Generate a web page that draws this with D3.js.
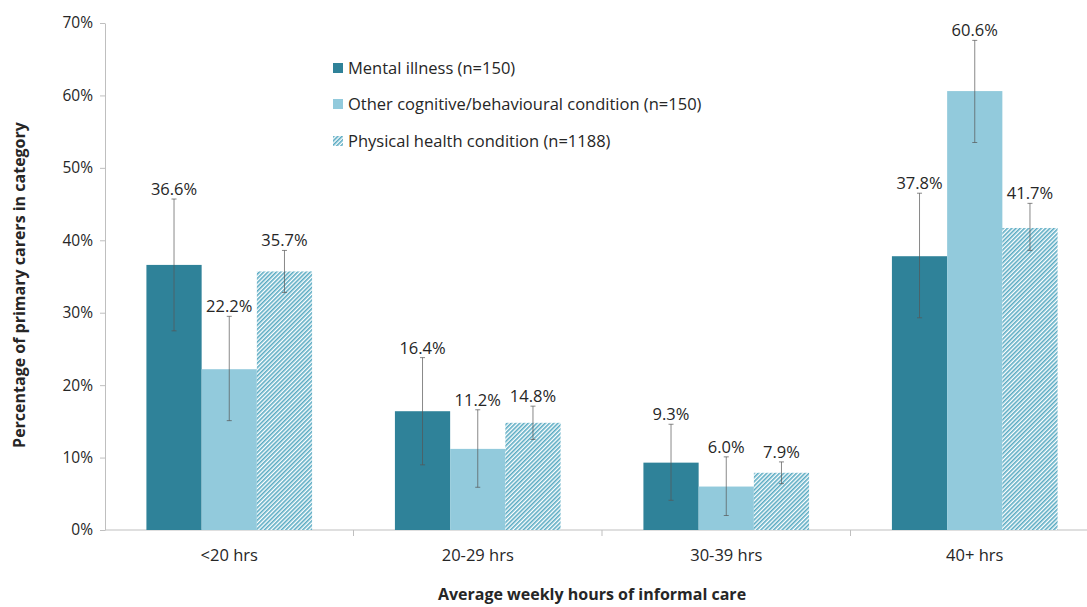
<!DOCTYPE html>
<html>
<head>
<meta charset="utf-8">
<script src="https://cdn.jsdelivr.net/npm/d3@7"></script>
<style>
  body { margin: 0; background: #fff; }
  svg { display: block; font-family: "Open Sans", sans-serif; }
</style>
</head>
<body>
<div id="chart"></div>
<script>
const categories = ['<20 hrs', '20-29 hrs', '30-39 hrs', '40+ hrs']
const seriesNames = [
	'Mental illness (n=150)',
	'Other cognitive/behavioural condition (n=150)',
	'Physical health condition (n=1188)',
]
// percentages
const mentalValues = [36.6, 16.4, 9.3, 37.8]
const otherValues = [22.2, 11.2, 6.0, 60.6]
const physicalValues = [35.7, 14.8, 7.9, 41.7]
// error bar bounds
const mentalLow = [27.5, 9.0, 4.1, 29.3]
const mentalHigh = [45.7, 23.8, 14.6, 46.5]
const otherLow = [15.1, 5.9, 2.0, 53.5]
const otherHigh = [29.5, 16.6, 10.1, 67.6]
const physicalLow = [32.8, 12.5, 6.4, 38.6]
const physicalHigh = [38.6, 17.1, 9.4, 45.1]
const yTicks = [0, 10, 20, 30, 40, 50, 60, 70]

const WIDTH = 1087
const HEIGHT = 607
const LEFT = 105
const AXIS_W = 994 // runs past the right edge, like the source crop

const series = [
	{ name: seriesNames[0], values: mentalValues, low: mentalLow, high: mentalHigh, fill: '#2f8299' },
	{ name: seriesNames[1], values: otherValues, low: otherLow, high: otherHigh, fill: '#92cadc' },
	{ name: seriesNames[2], values: physicalValues, low: physicalLow, high: physicalHigh, fill: 'url(#hatch)' },
]

const svg = d3.select('#chart').append('svg').attr('width', WIDTH).attr('height', HEIGHT)

// hatch pattern for physical health
const pat = svg.append('defs').append('pattern')
	.attr('id', 'hatch')
	.attr('patternUnits', 'userSpaceOnUse')
	.attr('width', 3).attr('height', 3)
	.attr('patternTransform', 'rotate(45)')
pat.append('rect').attr('width', 3).attr('height', 3).attr('fill', '#ffffff')
pat.append('rect').attr('width', 1.6).attr('height', 3).attr('fill', '#5aabc3')

const yScale = d3.scaleLinear().domain([0, 70]).range([530, 23])
const xScale = d3.scaleBand().domain(categories).range([LEFT, LEFT + AXIS_W]).paddingInner(0).paddingOuter(0)
const xInner = d3.scaleBand().domain(d3.range(series.length)).range([0, xScale.bandwidth()]).paddingOuter(0.75).paddingInner(0)

// y axis
const yaxis = svg.append('g').attr('transform', `translate(${LEFT},0)`)
	.call(d3.axisLeft(yScale).tickValues(yTicks).tickSize(5).tickSizeOuter(0).tickFormat(d => d + '%'))
yaxis.select('.domain').attr('stroke', '#bfbfbf')
yaxis.selectAll('.tick line').attr('stroke', '#bfbfbf')
yaxis.selectAll('.tick text').attr('fill', '#262626').attr('font-size', 15.5).attr('x', -12)
	.attr('font-family', '"Open Sans", sans-serif')

// x axis
const xaxis = svg.append('g').attr('transform', 'translate(0,530)')
xaxis.append('line').attr('x1', LEFT).attr('x2', LEFT + AXIS_W).attr('stroke', '#bfbfbf')
xaxis.selectAll('line.tk')
	.data(categories.slice(1))
	.join('line')
	.attr('class', 'tk')
	.attr('x1', d => xScale(d)).attr('x2', d => xScale(d))
	.attr('y1', 0).attr('y2', 6)
	.attr('stroke', '#bfbfbf')
xaxis.selectAll('text')
	.data(categories)
	.join('text')
	.attr('x', d => xScale(d) + xScale.bandwidth() / 2)
	.attr('y', 31)
	.attr('text-anchor', 'middle')
	.attr('font-size', 16.5)
	.attr('fill', '#262626')
	.text(d => d)

// bars, error bars, labels
const content = svg.append('g')
series.forEach((s, si) => {
	const g = content.append('g')
	const bx = (i) => xScale(categories[i]) + xInner(si)
	const cx = (i) => bx(i) + xInner.bandwidth() / 2
	g.selectAll('rect')
		.data(s.values)
		.join('rect')
		.attr('x', (d, i) => bx(i))
		.attr('y', d => yScale(d))
		.attr('width', xInner.bandwidth())
		.attr('height', d => yScale(0) - yScale(d))
		.attr('fill', s.fill)

	const eb = g.selectAll('g.err').data(s.values).join('g').attr('class', 'err')
		.attr('stroke', '#555').attr('stroke-opacity', 0.7).attr('stroke-width', 1)
	eb.append('line')
		.attr('x1', (d, i) => cx(i)).attr('x2', (d, i) => cx(i))
		.attr('y1', (d, i) => yScale(s.low[i])).attr('y2', (d, i) => yScale(s.high[i]))
	eb.append('line')
		.attr('x1', (d, i) => cx(i) - 2.5).attr('x2', (d, i) => cx(i) + 2.5)
		.attr('y1', (d, i) => yScale(s.high[i])).attr('y2', (d, i) => yScale(s.high[i]))
	eb.append('line')
		.attr('x1', (d, i) => cx(i) - 2.5).attr('x2', (d, i) => cx(i) + 2.5)
		.attr('y1', (d, i) => yScale(s.low[i])).attr('y2', (d, i) => yScale(s.low[i]))

	g.selectAll('text.val')
		.data(s.values)
		.join('text')
		.attr('class', 'val')
		.attr('x', (d, i) => cx(i))
		.attr('y', (d, i) => yScale(s.high[i]) - 4)
		.attr('text-anchor', 'middle')
		.attr('font-size', 16.5)
		.attr('fill', '#262626')
		.text(d => d.toFixed(1) + '%')
})

// legend
const legend = svg.append('g').attr('transform', 'translate(333,0)')
const legendY = [68, 104, 141]
series.forEach((s, i) => {
	legend.append('rect').attr('x', 0).attr('y', legendY[i] - 5).attr('width', 10).attr('height', 10).attr('fill', s.fill)
	legend.append('text').attr('x', 15).attr('y', legendY[i] + 6)
		.attr('font-size', 16.5).attr('fill', '#262626').text(s.name)
})

// axis titles
svg.append('text')
	.attr('transform', 'translate(25,285) rotate(-90)')
	.attr('text-anchor', 'middle')
	.attr('font-size', 16)
	.attr('font-weight', 'bold')
	.attr('fill', '#262626')
	.text('Percentage of primary carers in category')
svg.append('text')
	.attr('x', 592).attr('y', 600)
	.attr('text-anchor', 'middle')
	.attr('font-size', 16)
	.attr('font-weight', 'bold')
	.attr('fill', '#262626')
	.text('Average weekly hours of informal care')
</script>
</body>
</html>
